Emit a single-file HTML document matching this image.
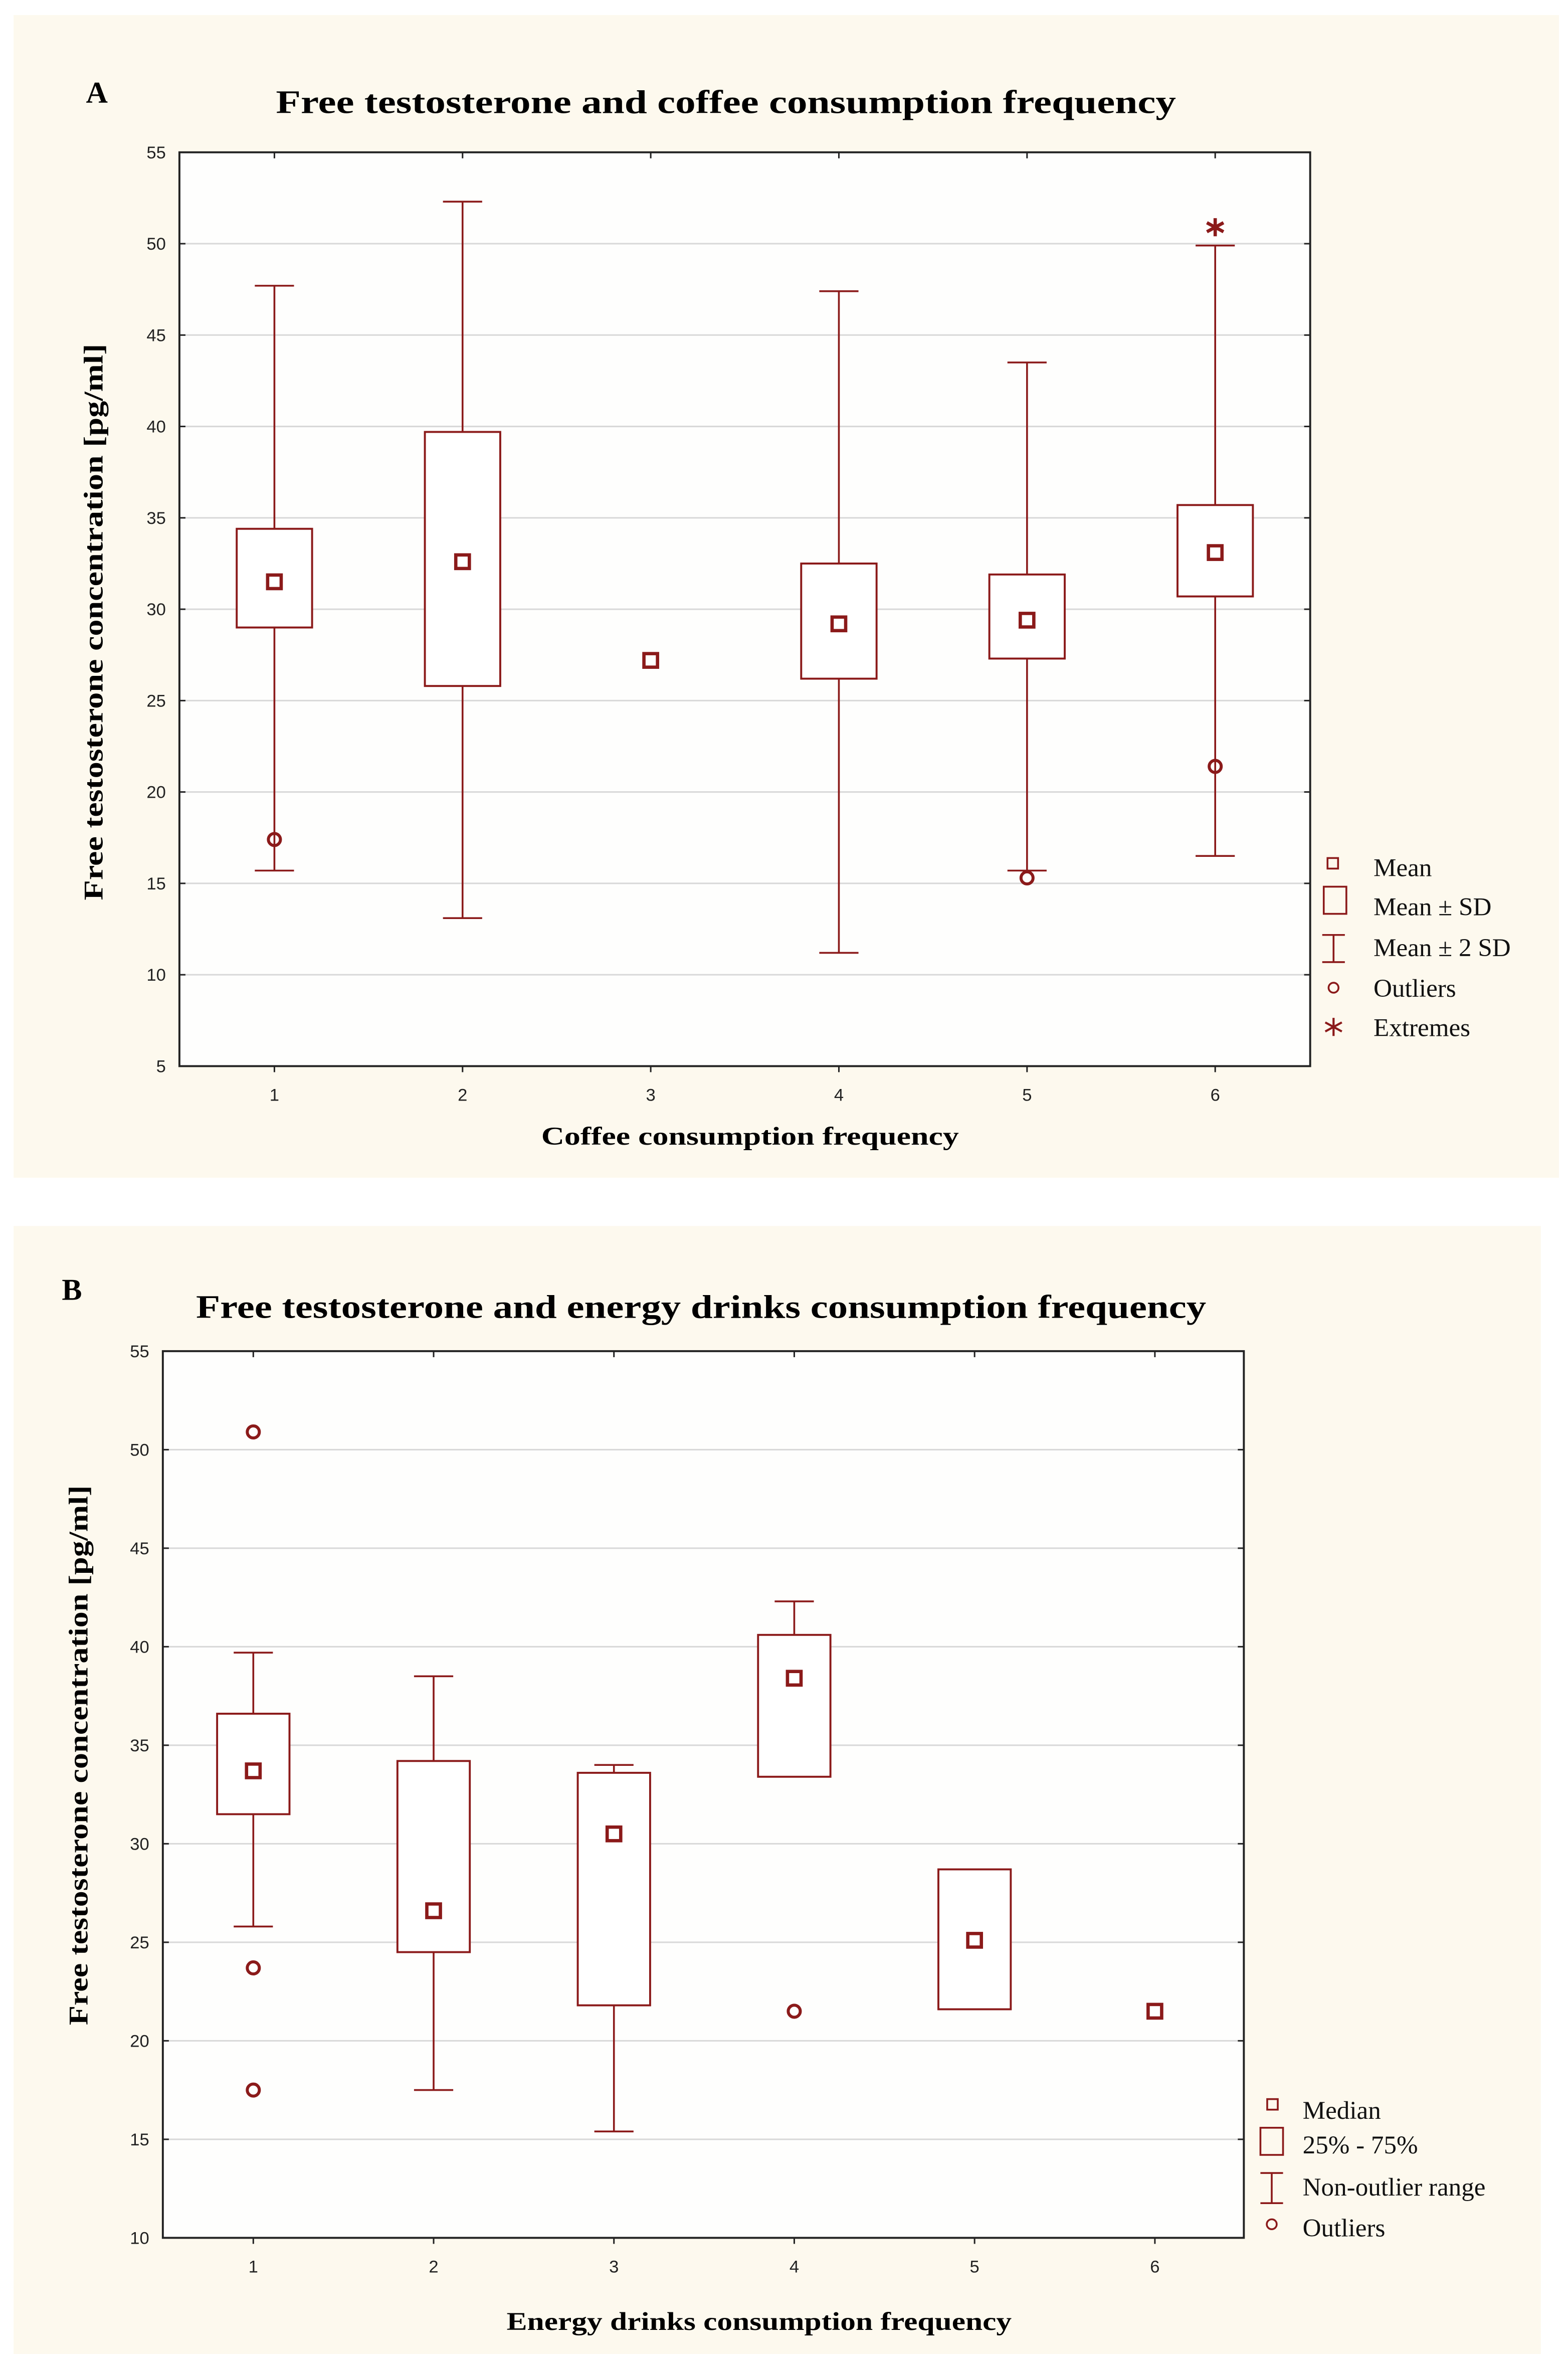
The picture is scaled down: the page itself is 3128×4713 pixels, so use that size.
<!DOCTYPE html>
<html><head><meta charset="utf-8"><style>
html,body{margin:0;padding:0;background:#fff;}
svg{display:block;}
text{font-family:"Liberation Serif",serif;}
.tick{font-family:"Liberation Sans",sans-serif;font-size:11.5px;fill:#222;}
</style></head><body>
<svg id="fig" width="3128" height="4713" viewBox="0 0 1040 1567" xmlns="http://www.w3.org/2000/svg">
<rect x="9" y="10" width="1025" height="771" fill="#fdf9ee"/>
<rect x="9" y="813" width="1013" height="748" fill="#fdf9ee"/>
<rect x="119" y="101" width="750" height="606" fill="#fefefd"/>
<rect x="108" y="896" width="717" height="588" fill="#fefefd"/>
<text x="57" y="68" font-size="20" font-weight="bold">A</text>
<text x="183" y="75" font-size="22" font-weight="bold" textLength="597" lengthAdjust="spacingAndGlyphs">Free testosterone and coffee consumption frequency</text>
<text x="41" y="862" font-size="20" font-weight="bold">B</text>
<text x="130" y="874" font-size="22" font-weight="bold" textLength="670" lengthAdjust="spacingAndGlyphs">Free testosterone and energy drinks consumption frequency</text>
<text x="359" y="759" font-size="17" font-weight="bold" textLength="277" lengthAdjust="spacingAndGlyphs">Coffee consumption frequency</text>
<text x="336" y="1545" font-size="17" font-weight="bold" textLength="335" lengthAdjust="spacingAndGlyphs">Energy drinks consumption frequency</text>
<text transform="translate(68,597) rotate(-90)" font-size="18" font-weight="bold" textLength="369" lengthAdjust="spacingAndGlyphs">Free testosterone concentration [pg/ml]</text>
<text transform="translate(58,1343) rotate(-90)" font-size="18" font-weight="bold" textLength="358" lengthAdjust="spacingAndGlyphs">Free testosterone concentration [pg/ml]</text>
<g id="ga"></g><g id="gb"></g>
<g fill="none" stroke="#8b1a1a" stroke-width="1.2">
<rect x="880.5" y="569" width="7" height="7"/>
<rect x="878" y="588" width="15" height="18"/>
<path d="M877 620h15M884.5 620v18M877 638h15"/>
<circle cx="884.5" cy="655" r="3.3"/>
<path d="M884.5 675v12M879 678l11 6M879 684l11-6" stroke-width="1.4"/>
</g>
<g font-size="17" fill="#111">
<text x="911" y="581">Mean</text>
<text x="911" y="607">Mean ± SD</text>
<text x="911" y="634">Mean ± 2 SD</text>
<text x="911" y="661">Outliers</text>
<text x="911" y="687">Extremes</text>
</g>
<g fill="none" stroke="#8b1a1a" stroke-width="1.2">
<rect x="840.5" y="1392" width="7" height="7"/>
<rect x="836" y="1411" width="15" height="18"/>
<path d="M836 1441h15M843.5 1441v20M836 1461h15"/>
<circle cx="843.5" cy="1475" r="3.3"/>
</g>
<g font-size="17" fill="#111">
<text x="864" y="1405">Median</text>
<text x="864" y="1428">25% - 75%</text>
<text x="864" y="1456">Non-outlier range</text>
<text x="864" y="1483">Outliers</text>
</g>
</svg>
<script>
const categories=[1,2,3,4,5,6];
const aMean=[31.5,32.6,27.2,29.2,29.4,33.1];
const aBoxLo=[29.0,25.8,null,26.2,27.3,30.7];
const aBoxHi=[34.4,39.7,null,32.5,31.9,35.7];
const aWhLo=[15.7,13.1,null,11.2,15.7,16.5];
const aWhHi=[47.7,52.3,null,47.4,43.5,49.9];
const aOutliers=[[0,17.4],[4,15.3],[5,21.4]];
const aExtremes=[[5,50.9]];
const aTicks=[5,10,15,20,25,30,35,40,45,50,55];
const bMedian=[33.7,26.6,30.5,38.4,25.1,21.5];
const bBoxLo=[31.5,24.5,21.8,33.4,21.6,null];
const bBoxHi=[36.6,34.2,33.6,40.6,28.7,null];
const bWhLo=[25.8,17.5,15.4,null,null,null];
const bWhHi=[39.7,38.5,34.0,42.3,null,null];
const bOutliers=[[0,50.9],[0,23.7],[0,17.5],[3,21.5]];
const bTicks=[10,15,20,25,30,35,40,45,50,55];
const NS="http://www.w3.org/2000/svg",C="#8b1a1a";
function mk(p,t,a){const e=document.createElementNS(NS,t);for(const k in a)e.setAttribute(k,a[k]);p.appendChild(e);return e;}
function draw(g,cfg){
 const {x0,x1,y0,y1,vmin,vmax,c1,c6,ticks}=cfg;
 const y=v=>y1-(v-vmin)/(vmax-vmin)*(y1-y0);
 const x=i=>c1+i*(c6-c1)/5;
 ticks.forEach(t=>{
  const l=mk(g,'line',{x1:x0,x2:x1,y1:y(t),y2:y(t),stroke:'#d8d8d8','stroke-width':1});
  
  
  mk(g,'line',{x1:x0,x2:x0+4,y1:y(t),y2:y(t),stroke:'#222'});
  mk(g,'line',{x1:x1-4,x2:x1,y1:y(t),y2:y(t),stroke:'#222'});
  const tx=mk(g,'text',{x:x0-9,y:y(t)+4,'text-anchor':'end',class:'tick'});tx.textContent=t;
  
  
 });
 const fr=mk(g,'rect',{x:x0,y:y0,width:x1-x0,height:y1-y0,fill:'none',stroke:'#222','stroke-width':1.3});
 
 
 categories.forEach((c,i)=>{
  mk(g,'line',{x1:x(i),x2:x(i),y1:y1,y2:y1+4,stroke:'#222'});
  mk(g,'line',{x1:x(i),x2:x(i),y1:y0,y2:y0+4,stroke:'#222'});
  const tx=mk(g,'text',{x:x(i),y:y1+23,'text-anchor':'middle',class:'tick'});tx.textContent=c;
  
  
 });
 const hw=cfg.bw/2,cw=13;
 categories.forEach((c,i)=>{
  const lo=cfg.wl[i],hi=cfg.wh[i],bl=cfg.bl[i],bh=cfg.bh[i];
  if(hi!=null){const w=mk(g,'path',{d:`M${x(i)-cw} ${y(hi)}h${2*cw}M${x(i)} ${y(hi)}V${y(bh!=null?bh:cfg.ctr[i])}`,stroke:C,fill:'none','stroke-width':1.2});
   
   }
  if(lo!=null){const w=mk(g,'path',{d:`M${x(i)-cw} ${y(lo)}h${2*cw}M${x(i)} ${y(lo)}V${y(bl!=null?bl:cfg.ctr[i])}`,stroke:C,fill:'none','stroke-width':1.2});
   
   }
  if(bl!=null){const b=mk(g,'rect',{x:x(i)-hw,y:y(bh),width:2*hw,height:y(bl)-y(bh),fill:'#fff',stroke:C,'stroke-width':1.3});
   
   }
  const m=mk(g,'rect',{x:x(i)-4.5,y:y(cfg.ctr[i])-4.5,width:9,height:9,fill:'none',stroke:C,'stroke-width':2.2});
  
  
 });
 cfg.out.forEach(([i,v])=>{const o=mk(g,'circle',{cx:x(i),cy:y(v),r:4,fill:'none',stroke:C,'stroke-width':2});
  
  });
 (cfg.ext||[]).forEach(([i,v])=>{const e=mk(g,'path',{d:`M${x(i)} ${y(v)-6}v12M${x(i)-5.5} ${y(v)-3}l11 6M${x(i)-5.5} ${y(v)+3}l11-6`,stroke:C,'stroke-width':2.2});
  
  });
}
draw(document.getElementById('ga'),{x0:119,x1:869,y0:101,y1:707,vmin:5,vmax:55,c1:182,c6:806,ticks:aTicks,bw:50,ctr:aMean,bl:aBoxLo,bh:aBoxHi,wl:aWhLo,wh:aWhHi,out:aOutliers,ext:aExtremes});
draw(document.getElementById('gb'),{x0:108,x1:825,y0:896,y1:1484,vmin:10,vmax:55,c1:168,c6:766,ticks:bTicks,bw:48,ctr:bMedian,bl:bBoxLo,bh:bBoxHi,wl:bWhLo,wh:bWhHi,out:bOutliers});
</script>
</body></html>
